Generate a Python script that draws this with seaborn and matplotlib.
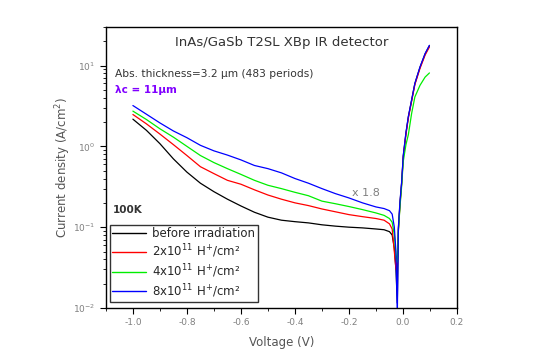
import pandas as pd
import matplotlib
matplotlib.use('Agg')
import matplotlib.pyplot as plt
import seaborn as sns

# Voltage grid (V) shared by all curves
voltage = [-1.0, -0.95, -0.9, -0.85, -0.8, -0.75, -0.7, -0.65, -0.6, -0.55,
           -0.5, -0.45, -0.4, -0.35, -0.3, -0.25, -0.2, -0.15, -0.1, -0.07,
           -0.05, -0.04, -0.032, -0.026, -0.021, -0.017, -0.011, -0.005, 0.001,
           0.011, 0.020, 0.032, 0.044, 0.063, 0.082, 0.098]

# current density (A/cm2)
j_before = [2.17, 1.58, 1.08, 0.70, 0.48, 0.35, 0.275, 0.222, 0.183, 0.153,
            0.133, 0.122, 0.117, 0.113, 0.107, 0.103, 0.100, 0.098, 0.095, 0.093,
            0.088, 0.080, 0.055, 0.030, 0.0115, 0.095, 0.20, 0.35, 0.75,
            1.45, 2.32, 3.72, 5.96, 9.5, 13.9, 17.6]
j_2e11 = [2.48, 1.9, 1.42, 1.05, 0.77, 0.56, 0.46, 0.38, 0.34, 0.29,
          0.25, 0.222, 0.20, 0.185, 0.168, 0.155, 0.143, 0.135, 0.128, 0.122,
          0.11, 0.095, 0.05, 0.03, 0.04, 0.09, 0.19, 0.34, 0.72,
          1.4, 2.25, 3.6, 5.8, 9.2, 13.5, 17.0]
j_4e11 = [2.73, 2.15, 1.65, 1.3, 1.0, 0.77, 0.63, 0.53, 0.45, 0.38,
          0.33, 0.30, 0.27, 0.245, 0.21, 0.195, 0.18, 0.165, 0.15, 0.14,
          0.128, 0.115, 0.08, 0.045, 0.037, 0.09, 0.18, 0.32, 0.65,
          1.05, 1.4, 2.55, 4.08, 5.69, 7.2, 8.1]
j_8e11 = [3.2, 2.5, 1.95, 1.55, 1.28, 1.03, 0.88, 0.78, 0.68, 0.58,
          0.53, 0.47, 0.40, 0.35, 0.30, 0.26, 0.23, 0.20, 0.178, 0.17,
          0.16, 0.145, 0.10, 0.05, 0.008, 0.10, 0.21, 0.36, 0.77,
          1.48, 2.35, 3.75, 6.0, 9.6, 14.1, 17.8]

labels = ['before irradiation',
          r'2x10$^{11}$ H$^{+}$/cm²',
          r'4x10$^{11}$ H$^{+}$/cm²',
          r'8x10$^{11}$ H$^{+}$/cm²']
colors = ['#000000', '#ff0000', '#00ee00', '#0000ff']

frames = []
for lab, j in zip(labels, [j_before, j_2e11, j_4e11, j_8e11]):
    frames.append(pd.DataFrame({'V': voltage, 'J': j, 'dose': lab}))
df = pd.concat(frames, ignore_index=True)

sns.set_theme(style='ticks')
plt.rcParams['font.family'] = ['DejaVu Sans']

fig = plt.figure(figsize=(5.43, 3.55), dpi=100)
ax = fig.add_axes([0.195, 0.1324, 0.6466, 0.7916])

sns.lineplot(data=df, x='V', y='J', hue='dose', hue_order=labels,
             palette=colors, sort=False, estimator=None, linewidth=0.9, ax=ax)

ax.set_yscale('log')
ax.set_xlim(-1.1, 0.2)
ax.set_ylim(0.01, 30)
ax.set_xticks([-1.0, -0.8, -0.6, -0.4, -0.2, 0.0, 0.2])
ax.set_xticklabels(['-1.0', '-0.8', '-0.6', '-0.4', '-0.2', '0.0', '0.2'])
ax.xaxis.set_minor_locator(matplotlib.ticker.MultipleLocator(0.1))

for s in ax.spines.values():
    s.set_color('black')
    s.set_linewidth(1.0)
ax.tick_params(which='major', direction='out', length=4, width=0.8,
               color='black', labelsize=6.5, labelcolor='#808080')
ax.tick_params(which='minor', direction='out', length=2, width=0.6, color='black')

ax.set_xlabel('Voltage (V)', fontsize=8.5, color='#555555')
ax.set_ylabel('Current density (A/cm$^2$)', fontsize=8.5, color='#555555')
ax.xaxis.set_label_coords(0.5, -0.10)
ax.yaxis.set_label_coords(-0.095, 0.5)

ax.text(0.5, 0.943, 'InAs/GaSb T2SL XBp IR detector', transform=ax.transAxes,
        ha='center', va='center', fontsize=9.5, color='#333333')
ax.text(0.026, 0.833, 'Abs. thickness=3.2 µm (483 periods)', transform=ax.transAxes,
        ha='left', va='center', fontsize=7.7, color='#333333')
ax.text(0.026, 0.776, 'λc = 11µm', transform=ax.transAxes,
        ha='left', va='center', fontsize=7.5, color='#8000ff', fontweight='bold')
ax.text(0.02, 0.349, '100K', transform=ax.transAxes,
        ha='left', va='center', fontsize=7.5, color='#333333', fontweight='bold')
ax.text(0.70, 0.409, 'x 1.8', transform=ax.transAxes,
        ha='left', va='center', fontsize=8, color='#808080')

leg = ax.legend(loc='upper left', bbox_to_anchor=(0.011, 0.295), borderaxespad=0,
                fontsize=8.5, frameon=True, fancybox=False, handlelength=2.9,
                labelspacing=0.18, borderpad=0.2, handletextpad=0.5)
leg.get_frame().set_edgecolor('black')
leg.get_frame().set_linewidth(1.0)
for line in leg.get_lines():
    line.set_linewidth(1.0)

fig.savefig('out.png', dpi=100)
